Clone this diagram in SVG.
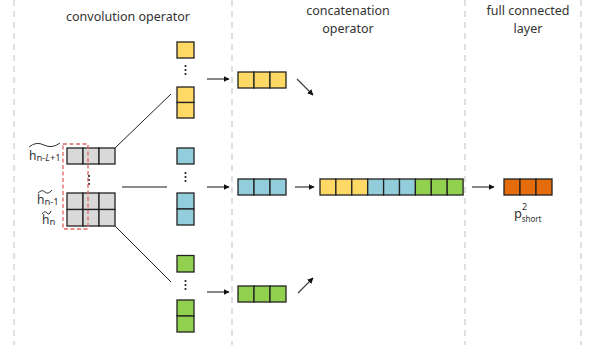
<svg xmlns="http://www.w3.org/2000/svg" width="589" height="350" viewBox="0 0 589 350">
  <style>
    .title { font-family: "Noto Sans", "Open Sans", sans-serif; font-size: 12.5px; fill: #333; text-anchor: middle; }
    .sym { font-family: "Noto Sans", "Open Sans", sans-serif; fill: #333; }
    .sep { stroke: #c0c0c0; stroke-width: 1; stroke-dasharray: 6 5; fill: none; }
    .cell { stroke: #222; stroke-width: 1.3; }
    .gray { fill: #d9d9d9; }
    .yellow { fill: #ffd966; }
    .blue { fill: #92cddc; }
    .green { fill: #92d050; }
    .orange { fill: #e46c0a; }
    .link { stroke: #222; stroke-width: 1; fill: none; }
    .hline { stroke: #666; stroke-width: 1.5; fill: none; }
    .arrow { stroke: #444; stroke-width: 1.3; fill: none; marker-end: url(#head); }
    .dots { fill: #222; }
    .tilde { stroke: #333; stroke-width: 1; fill: none; }
  </style>
  <defs>
    <marker id="head" viewBox="0 0 10 10" refX="9" refY="5" markerWidth="6" markerHeight="6" markerUnits="userSpaceOnUse" orient="auto">
      <path d="M0,0 L10,5 L0,10 z" fill="#111"/>
    </marker>
    <g id="vdots">
      <circle cx="0" cy="0" r="1.1"/>
      <circle cx="0" cy="4" r="1.1"/>
      <circle cx="0" cy="8" r="1.1"/>
    </g>
  </defs>

  <rect width="589" height="350" fill="#fff"/>

  <!-- column separators -->
  <g id="separators">
    <line class="sep" x1="14" y1="0" x2="14" y2="345"/>
    <line class="sep" x1="232" y1="0" x2="232" y2="345"/>
    <line class="sep" x1="465" y1="0" x2="465" y2="345"/>
    <line class="sep" x1="581" y1="0" x2="581" y2="345"/>
  </g>

  <!-- section titles -->
  <g id="titles">
    <text class="title" x="128" y="21">convolution operator</text>
    <text class="title" x="348" y="15">concatenation</text>
    <text class="title" x="348" y="32.5">operator</text>
    <text class="title" x="528" y="15">full connected</text>
    <text class="title" x="528" y="32.5">layer</text>
  </g>

  <!-- input sequence matrix -->
  <g id="input">
    <rect class="cell gray" x="67" y="148" width="16" height="16"/>
    <rect class="cell gray" x="83" y="148" width="16" height="16"/>
    <rect class="cell gray" x="99" y="148" width="16" height="16"/>
    <rect class="cell gray" x="67" y="193" width="16" height="16.5"/>
    <rect class="cell gray" x="83" y="193" width="16" height="16.5"/>
    <rect class="cell gray" x="99" y="193" width="16" height="16.5"/>
    <rect class="cell gray" x="67" y="209.5" width="16" height="16.5"/>
    <rect class="cell gray" x="83" y="209.5" width="16" height="16.5"/>
    <rect class="cell gray" x="99" y="209.5" width="16" height="16.5"/>
    <use href="#vdots" class="dots" x="89" y="176"/>
    <rect x="63" y="144" width="25" height="85" fill="none" stroke="#e06666" stroke-width="1.3" stroke-dasharray="4 2.5"/>
  </g>

  <!-- row labels -->
  <g id="labels">
    <path class="tilde" d="M29,147 Q36,141 44,145 Q52,149 60,143"/>
    <text class="sym" x="29" y="160" font-size="12">h<tspan font-size="9.5" dy="1">n-<tspan font-style="italic">L</tspan>+1</tspan></text>
    <path class="tilde" d="M38,193 Q42,189 45,192 Q48,195 52,190"/>
    <text class="sym" x="37" y="204" font-size="12">h<tspan font-size="9.5" dy="1">n-1</tspan></text>
    <path class="tilde" d="M42,214 Q45,210 47,213 Q49,216 51,211"/>
    <text class="sym" x="42" y="224" font-size="12">h<tspan font-size="9.5" dy="1">n</tspan></text>
  </g>

  <!-- feature maps -->
  <g id="map-yellow">
    <rect class="cell yellow" x="177" y="42" width="17" height="16"/>
    <use href="#vdots" class="dots" x="185.5" y="66"/>
    <rect class="cell yellow" x="177" y="87" width="17" height="15.5"/>
    <rect class="cell yellow" x="177" y="102.5" width="17" height="15.5"/>
  </g>
  <g id="map-blue">
    <rect class="cell blue" x="177" y="148" width="17" height="16"/>
    <use href="#vdots" class="dots" x="185.5" y="173"/>
    <rect class="cell blue" x="177" y="193" width="17" height="16"/>
    <rect class="cell blue" x="177" y="209" width="17" height="16"/>
  </g>
  <g id="map-green">
    <rect class="cell green" x="177" y="255.5" width="17" height="16.5"/>
    <use href="#vdots" class="dots" x="185.5" y="281"/>
    <rect class="cell green" x="177" y="300" width="17" height="16"/>
    <rect class="cell green" x="177" y="316" width="17" height="16"/>
  </g>

  <!-- pooled vectors -->
  <g id="pool-yellow">
    <rect class="cell yellow" x="238" y="72" width="16" height="16"/>
    <rect class="cell yellow" x="254" y="72" width="16" height="16"/>
    <rect class="cell yellow" x="270" y="72" width="16" height="16"/>
  </g>
  <g id="pool-blue">
    <rect class="cell blue" x="238" y="179" width="16" height="16"/>
    <rect class="cell blue" x="254" y="179" width="16" height="16"/>
    <rect class="cell blue" x="270" y="179" width="16" height="16"/>
  </g>
  <g id="pool-green">
    <rect class="cell green" x="238" y="286" width="16" height="16"/>
    <rect class="cell green" x="254" y="286" width="16" height="16"/>
    <rect class="cell green" x="270" y="286" width="16" height="16"/>
  </g>

  <!-- concatenated vector -->
  <g id="concat">
    <rect class="cell yellow" x="320" y="179" width="15.9" height="16"/>
    <rect class="cell yellow" x="335.9" y="179" width="15.9" height="16"/>
    <rect class="cell yellow" x="351.8" y="179" width="15.9" height="16"/>
    <rect class="cell blue" x="367.7" y="179" width="15.9" height="16"/>
    <rect class="cell blue" x="383.6" y="179" width="15.9" height="16"/>
    <rect class="cell blue" x="399.5" y="179" width="15.9" height="16"/>
    <rect class="cell green" x="415.4" y="179" width="15.9" height="16"/>
    <rect class="cell green" x="431.3" y="179" width="15.9" height="16"/>
    <rect class="cell green" x="447.2" y="179" width="15.9" height="16"/>
  </g>

  <!-- output layer -->
  <g id="output">
    <rect class="cell orange" x="504" y="179" width="16" height="16"/>
    <rect class="cell orange" x="520" y="179" width="16" height="16"/>
    <rect class="cell orange" x="536" y="179" width="16" height="16"/>
    <text class="sym" x="514" y="218" font-size="13">p<tspan font-size="9" dy="-8">2</tspan><tspan font-size="8" dx="-5.5" dy="12">short</tspan></text>
  </g>

  <!-- connectors -->
  <g id="connectors">
    <line class="link" x1="115" y1="148" x2="171" y2="94"/>
    <line class="hline" x1="122" y1="187" x2="167" y2="187"/>
    <line class="link" x1="115" y1="226" x2="171" y2="282"/>
    <line class="arrow" x1="207" y1="79" x2="229" y2="79"/>
    <line class="arrow" x1="207" y1="187" x2="229" y2="187"/>
    <line class="arrow" x1="207" y1="292" x2="229" y2="292"/>
    <line class="arrow" x1="297" y1="79" x2="313" y2="95"/>
    <line class="arrow" x1="295" y1="187" x2="314" y2="187"/>
    <line class="arrow" x1="298" y1="293" x2="313" y2="278"/>
    <line class="arrow" x1="472" y1="187" x2="494" y2="187"/>
  </g>
</svg>
